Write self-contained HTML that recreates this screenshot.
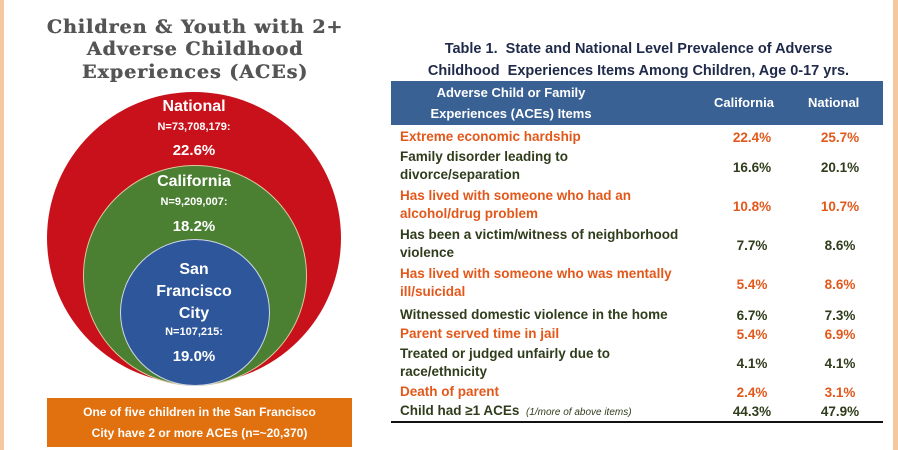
<!DOCTYPE html>
<html><head><style>
body{margin:0;width:898px;height:450px;background:#fff;position:relative;overflow:hidden;font-family:"Liberation Sans",sans-serif}
.b{position:absolute;top:0;bottom:0;width:4px;background:#f6c8a0}
.t{position:absolute;white-space:nowrap}
.ttl{left:30px;width:330px;text-align:center;font-family:"DejaVu Serif",serif;font-weight:bold;font-size:19px;color:#555;letter-spacing:1px;text-shadow:0.5px 0 0 #555}
.c{position:absolute;border-radius:50%}
.ct{position:absolute;left:94px;width:200px;text-align:center;color:#fff;font-weight:bold;white-space:nowrap}
.r{position:absolute;left:400px;font-size:13.5px;font-weight:bold;line-height:18px;white-space:nowrap}
.o{color:#e2581b}.g{color:#2f3d1c}
.v1,.v2{position:absolute;font-size:13.5px;font-weight:bold;width:64px;text-align:center}
.v1{left:720px}.v2{left:808px}
</style></head><body>
<div class="b" style="left:0"></div><div class="b" style="right:0;width:5px"></div>
<div class="t ttl" style="top:16px">Children &amp; Youth with 2+</div>
<div class="t ttl" style="top:38px">Adverse Childhood</div>
<div class="t ttl" style="top:61px">Experiences (ACEs)</div>
<div class="c" style="left:47px;top:92px;width:294px;height:292px;background:#c8111a"></div>
<div class="c" style="left:83px;top:165px;width:222px;height:219px;background:#4b7f32;border:1px solid #d9c9a0"></div>
<div class="c" style="left:120px;top:239px;width:148px;height:145px;background:#2e569b;border:1px solid #cfd6e6"></div>
<div class="ct" style="top:98px;font-size:16px">National</div>
<div class="ct" style="top:121px;font-size:11px">N=73,708,179:</div>
<div class="ct" style="top:142px;font-size:15px">22.6%</div>
<div class="ct" style="top:173px;font-size:16px">California</div>
<div class="ct" style="top:196px;font-size:11px">N=9,209,007:</div>
<div class="ct" style="top:218px;font-size:15px">18.2%</div>
<div class="ct" style="top:259px;font-size:16px;line-height:22px">San<br>Francisco<br>City</div>
<div class="ct" style="top:326px;font-size:11px">N=107,215:</div>
<div class="ct" style="top:348px;font-size:15px">19.0%</div>
<div style="position:absolute;left:47px;top:398px;width:305px;height:49px;background:#e1700e;color:#fff;font-weight:bold;font-size:12px;text-align:center;line-height:21px;padding-top:4px;box-sizing:border-box">One of five children in the San Francisco<br>City have 2 or more ACEs (n=~20,370)</div>

<div class="t" style="left:391px;width:495px;text-align:center;top:38px;font-size:14.5px;font-weight:bold;color:#1f2a4a;line-height:22px">Table 1.&nbsp; State and National Level Prevalence of Adverse<br>Childhood&nbsp; Experiences Items Among Children, Age 0-17 yrs.</div>
<div style="position:absolute;left:391px;top:81px;width:492px;height:44px;background:#3a6194;color:#fff;font-weight:bold;font-size:13px">
<div class="t" style="left:20px;width:200px;text-align:center;top:1px;line-height:21px">Adverse Child or Family<br>Experiences (ACEs) Items</div>
<div class="t" style="left:323px;top:14px">California</div>
<div class="t" style="left:417px;top:14px">National</div></div>
<div class="r o" style="top:128px">Extreme economic hardship</div><div class="v1 o" style="top:130px">22.4%</div><div class="v2 o" style="top:130px">25.7%</div>
<div class="r g" style="top:148px">Family disorder leading to<br>divorce/separation</div><div class="v1 g" style="top:160px">16.6%</div><div class="v2 g" style="top:160px">20.1%</div>
<div class="r o" style="top:187px">Has lived with someone who had an<br>alcohol/drug problem</div><div class="v1 o" style="top:199px">10.8%</div><div class="v2 o" style="top:199px">10.7%</div>
<div class="r g" style="top:226px">Has been a victim/witness of neighborhood<br>violence</div><div class="v1 g" style="top:238px">7.7%</div><div class="v2 g" style="top:238px">8.6%</div>
<div class="r o" style="top:265px">Has lived with someone who was mentally<br>ill/suicidal</div><div class="v1 o" style="top:277px">5.4%</div><div class="v2 o" style="top:277px">8.6%</div>
<div class="r g" style="top:306px">Witnessed domestic violence in the home</div><div class="v1 g" style="top:308px">6.7%</div><div class="v2 g" style="top:308px">7.3%</div>
<div class="r o" style="top:325px">Parent served time in jail</div><div class="v1 o" style="top:327px">5.4%</div><div class="v2 o" style="top:327px">6.9%</div>
<div class="r g" style="top:345px">Treated or judged unfairly due to<br>race/ethnicity</div><div class="v1 g" style="top:356px">4.1%</div><div class="v2 g" style="top:356px">4.1%</div>
<div class="r o" style="top:383px">Death of parent</div><div class="v1 o" style="top:385px">2.4%</div><div class="v2 o" style="top:385px">3.1%</div>
<div class="r g" style="top:402px">Child had ≥1 ACEs <span style="font-size:10px;font-weight:normal;font-style:italic">&nbsp;(1/more of above items)</span></div><div class="v1 g" style="top:404px">44.3%</div><div class="v2 g" style="top:404px">47.9%</div>
<div style="position:absolute;left:391px;top:421px;width:492px;height:2px;background:#111"></div>
</body></html>
